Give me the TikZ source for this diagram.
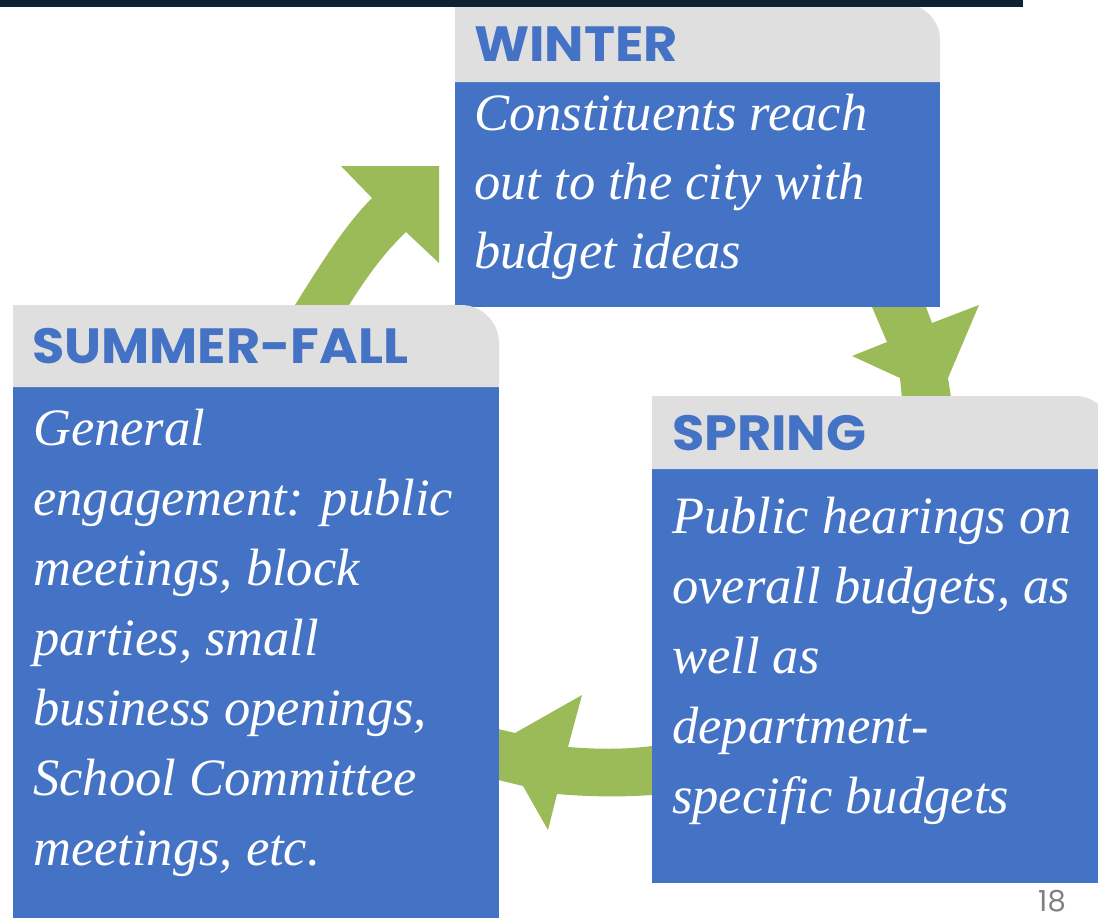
\documentclass[tikz,border=0pt]{standalone}
\usepackage{fontspec}
\newfontfamily\bodyfont{Liberation Serif}
\newfontfamily\headfont{Poppins}[FakeStretch=1.06]
\newfontfamily\numfont{Poppins}
\definecolor{boxblue}{HTML}{4472C4}
\definecolor{headgray}{HTML}{DFDFDF}
\definecolor{arrowgreen}{HTML}{9BBB59}
\definecolor{topnavy}{HTML}{0E2233}
\definecolor{pagegray}{HTML}{808080}
\tikzset{
  bodytext/.style={anchor=base west, inner sep=0pt, text=white, font=\bodyfont\itshape\fontsize{52.5}{60}\selectfont},
  headtext/.style={anchor=base west, inner sep=0pt, text=boxblue, font=\headfont\bfseries\fontsize{49.5}{56}\selectfont},
  greenarrow/.style={fill=arrowgreen, draw=none},
  headbox/.style={fill=headgray, draw=none},
  bodybox/.style={fill=boxblue, draw=none}
}
\begin{document}
\begin{tikzpicture}[x=1pt,y=-1pt]
\useasboundingbox (0,0) rectangle (1098,918);
% green arrows (behind boxes)
\fill[greenarrow] (285,330) -- (295,305) .. controls (320,265) and (345,225) .. (372,198)
  -- (341,166) -- (439,166) -- (439,263) -- (406,232)
  .. controls (385,252) and (368,275) .. (349,305) -- (340,330) -- cycle;
\fill[greenarrow] (868,297) -- (872,307) -- (887,342) -- (852,356) -- (900,378) -- (903,410)
  -- (953,410) -- (948,378) -- (979,305) -- (932,323) -- (926,307) -- (922,297) -- cycle;
\fill[greenarrow] (662,745) -- (652,746) .. controls (620,750) and (595,749) .. (568,747)
  -- (582,695) -- (515,733) -- (490,727) -- (490,778) -- (523,786) -- (548,830) -- (557,794)
  .. controls (590,797) and (625,797) .. (652,795) -- (662,794) -- cycle;
% winter box
\fill[bodybox] (455,80) rectangle (940,307);
\fill[headbox] (455,82) -- (455,4) [rounded corners=36pt] -- (940,4) [sharp corners] -- (940,82) -- cycle;
% summer-fall box
\fill[bodybox] (13,386) rectangle (499,918);
\fill[headbox] (13,387) -- (13,305) [rounded corners=38pt] -- (499,305) [sharp corners] -- (499,387) -- cycle;
% spring box
\fill[bodybox] (652,468) rectangle (1098,883);
\fill[headbox] (652,469) -- (652,396) [rounded corners=34pt] -- (1110,396) [sharp corners] -- (1110,469) -- cycle;
% top rule
\fill[topnavy] (0,0) rectangle (1023,7);
% headers
\node[headtext] (hwinter) at (474,61) {WINTER};
\node[headtext] (hsummer) at (32,363) {SUMMER-FALL};
\node[headtext] (hspring) at (672,450) {SPRING};
% body texts
\foreach \t [count=\i] in {Constituents reach, out to the city with, budget ideas}
  \node[bodytext] (w\i) at (474,{130+69*(\i-1)}) {\t};
\foreach \t [count=\i] in {General, engagement: public, {meetings, block}, {parties, small}, {business openings,}, School Committee, {meetings, etc.}}
  \node[bodytext] (s\i) at (33,{445+70*(\i-1)}) {\t};
\foreach \t [count=\i] in {Public hearings on, {overall budgets, as}, well as, department-, specific budgets}
  \node[bodytext] (p\i) at (672,{533+70*(\i-1)}) {\t};
% page number
\node[anchor=base east, inner sep=0pt, text=pagegray, font=\numfont\fontsize{29}{32}\selectfont] (pnum) at (1066,911) {18};
\end{tikzpicture}
\end{document}
